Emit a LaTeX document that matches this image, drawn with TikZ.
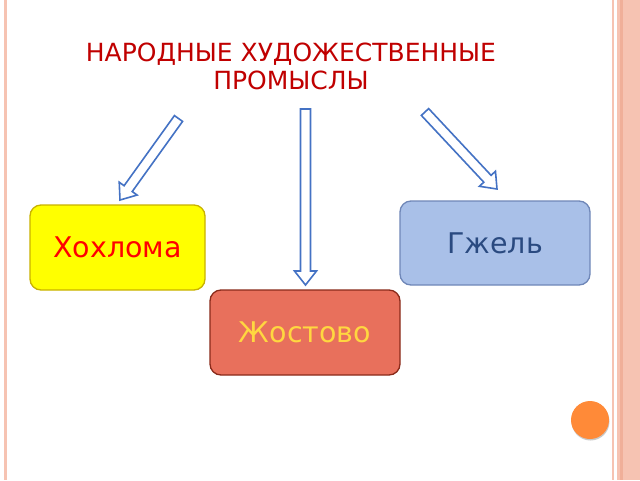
\documentclass[tikz,border=0pt]{standalone}
\usepackage{fontspec}
\setmainfont{DejaVu Sans}
\usetikzlibrary{calc}
\definecolor{border}{HTML}{F6C3B2}
\definecolor{borderdk}{HTML}{F0AF99}
\definecolor{titlered}{HTML}{C00000}
\definecolor{arrowblue}{HTML}{4472C4}
\definecolor{yfill}{HTML}{FFFF00}
\definecolor{ydraw}{HTML}{C9B200}
\definecolor{bfill}{HTML}{A9C0E8}
\definecolor{bdraw}{HTML}{6F87B8}
\definecolor{btext}{HTML}{2A4A80}
\definecolor{rfill}{HTML}{E8705C}
\definecolor{rdraw}{HTML}{8A2A1A}
\definecolor{rtext}{HTML}{FFD740}
\definecolor{orangedot}{HTML}{FF8A38}
\tikzset{
  box/.style={rounded corners=11pt, line width=1.3pt, font=\fontsize{28.5}{32}\selectfont},
  blockarrow/.style={draw=arrowblue, fill=white, line width=1.6pt, line join=miter},
  titletext/.style={text=titlered, font=\fontsize{25}{28}\selectfont, align=center}
}
\newcommand{\barrowpath}[2]{%
  \coordinate (#1hb) at ($(#2)!14pt!(#1)$);
  \draw[blockarrow] ($(#1)!5pt!90:(#2)$) -- ($(#1hb)!5pt!-90:(#1)$) -- ($(#1hb)!11pt!-90:(#1)$) -- (#2)
     -- ($(#1hb)!11pt!90:(#1)$) -- ($(#1hb)!5pt!90:(#1)$) -- ($(#1)!5pt!-90:(#2)$) -- cycle;}
\begin{document}
\begin{tikzpicture}[x=1pt,y=-1pt]
\useasboundingbox (0,0) rectangle (640,480);
\fill[white] (0,0) rectangle (640,480);
% borders
\fill[border] (4,0) rectangle (7,480);
\fill[border] (612,0) rectangle (614,480);
\fill[border] (617,0) rectangle (640,480);
\fill[borderdk] (620,0) rectangle (623,480);
% title
\node[titletext] (title) at (291,66) {НАРОДНЫЕ ХУДОЖЕСТВЕННЫЕ\\ПРОМЫСЛЫ};
% arrows
\coordinate (lt) at (178.5,118.5); \coordinate (lh) at (120,200);
\coordinate (mt) at (305.5,109); \coordinate (mh) at (305.5,285);
\coordinate (rt) at (425,112); \coordinate (rh) at (497,189);
\barrowpath{lt}{lh}
\barrowpath{mt}{mh}
\barrowpath{rt}{rh}
% boxes
\node[box, draw=ydraw, fill=yfill, text=red, minimum width=175pt, minimum height=85pt] (khokh) at (117.5,247.5) {Хохлома};
\node[box, draw=bdraw, fill=bfill, text=btext, minimum width=190pt, minimum height=84pt] (gzhel) at (495,243) {Гжель};
\node[box, draw=rdraw, fill=rfill, text=rtext, minimum width=190pt, minimum height=85pt] (zhost) at (305,332.5) {Жостово};
% dot
\fill[black!35, opacity=0.6] (590.5,421.5) circle (19pt);
\fill[orangedot] (590,420) circle (19pt);
\end{tikzpicture}
\end{document}
